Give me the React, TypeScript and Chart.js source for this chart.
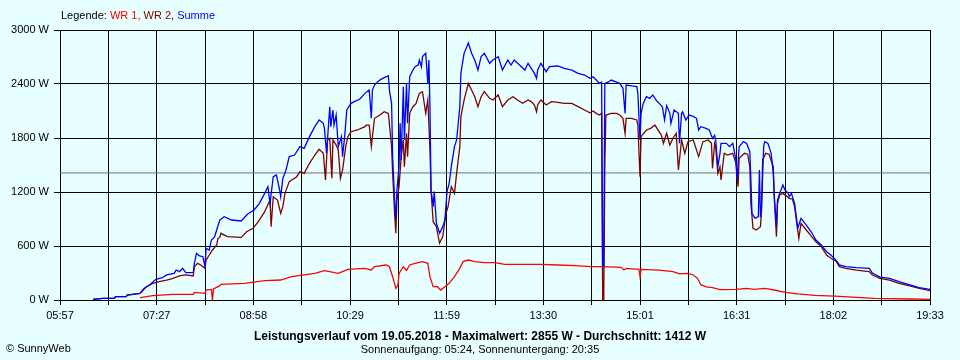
import React, { useEffect, useRef } from "react";
import { Chart, registerables } from "chart.js";

Chart.register(...registerables);

// ---- axis / reference values ----
const startMinute = 357; // 05:57
const endMinute = 1173; // 19:33
const gridDivisions = 18;
const yMin = 0;
const yMax = 3000;
const yStep = 600;
const averageWatt = 1412;

// ---- texts ----
const legendPrefix = "Legende: ";
const seriesNames = ["WR 1", "WR 2", "Summe"];
const titleText = "Leistungsverlauf vom 19.05.2018 - Maximalwert: 2855 W - Durchschnitt: 1412 W";
const subtitleText = "Sonnenaufgang: 05:24, Sonnenuntergang: 20:35";
const copyrightText = "\u00A9 SunnyWeb";

// ---- data (minutes after midnight, Watt) ----
const sumTimes = [
  388, 397, 408, 409, 419, 420, 432, 436, 441, 447,
  453, 457, 464, 466, 469, 472, 475, 482, 483, 485,
  488, 491, 493, 494, 497, 499, 502, 505, 507, 511,
  518, 527, 533, 539, 544, 549, 552, 554, 557, 560,
  563, 564, 566, 569, 572, 577, 582, 586, 591, 596,
  600, 604, 605, 607, 610, 611, 613, 614, 616, 618,
  621, 622, 624, 626, 630, 633, 638, 643, 647, 649,
  650, 652, 655, 658, 663, 665, 666, 668, 669, 671,
  672, 673, 675, 676, 677, 679, 680, 682, 683, 685,
  688, 690, 693, 694, 696, 697, 700, 702, 703, 704,
  705, 707, 708, 710, 713, 716, 718, 720, 722, 724,
  727, 729, 732, 733, 736, 738, 740, 743, 746, 749,
  752, 755, 760, 763, 768, 772, 777, 780, 783, 788,
  793, 796, 799, 802, 804, 805, 808, 813, 816, 824,
  830, 837, 843, 849, 854, 857, 860, 863, 865, 866,
  867, 868, 871, 874, 879, 882, 885, 887, 888, 893,
  898, 899, 901, 902, 904, 907, 910, 913, 916, 919,
  922, 924, 926, 929, 930, 933, 937, 938, 940, 941,
  944, 947, 951, 954, 956, 958, 963, 966, 969, 971,
  972, 974, 976, 977, 982, 985, 988, 991, 992, 994,
  998, 1001, 1004, 1005, 1006, 1009, 1012, 1013, 1014, 1015,
  1017, 1018, 1021, 1024, 1026, 1027, 1029, 1030, 1032, 1035,
  1037, 1040, 1041, 1043, 1046, 1048, 1049, 1052, 1057, 1062,
  1066, 1071, 1076, 1080, 1085, 1088, 1094, 1104, 1116, 1119,
  1126, 1135, 1144, 1154, 1163, 1173,
];
const sumValues = [
  8, 19, 19, 37, 37, 55, 74, 130, 167, 230,
  248, 278, 296, 333, 315, 352, 304, 304, 407, 518,
  489, 481, 370, 574, 556, 667, 700, 820, 889, 926,
  889, 878, 955, 1000, 1074, 1185, 1259, 1074, 1370, 1389,
  1222, 1148, 1352, 1444, 1593, 1611, 1704, 1685, 1815, 1926,
  2000, 1963, 1907, 1630, 2148, 1926, 2111, 1944, 2055, 1704,
  1815, 1593, 1815, 2111, 2185, 2204, 2230, 2296, 2333, 2019,
  2333, 2389, 2426, 2452, 2481, 2489, 2333, 2185, 1593, 1074,
  889, 1222, 1481, 1963, 1555, 2370, 1778, 2407, 1963, 2481,
  2555, 2592, 2611, 2667, 2592, 2704, 2741, 2407, 2667, 2148,
  1222, 1037, 1204, 852, 741, 815, 889, 1204, 1296, 1481,
  1704, 1778, 2148, 2518, 2741, 2796, 2855, 2741, 2667, 2555,
  2704, 2741, 2630, 2667, 2704, 2555, 2667, 2611, 2667, 2611,
  2555, 2630, 2574, 2518, 2463, 2555, 2630, 2537, 2593, 2600,
  2574, 2555, 2518, 2500, 2463, 2481, 2444, 2407, 2420, 370,
  380, 2407, 2420, 2444, 2420, 2407, 2352, 2074, 2389, 2378,
  2370, 2296, 1778, 2074, 2185, 2259, 2240, 2278, 2222, 2185,
  2148, 2000, 2160, 2074, 1963, 2111, 2074, 1741, 2074, 2090,
  2000, 2055, 2040, 2019, 1889, 1926, 1907, 1890, 1796, 1830,
  1778, 1481, 1630, 1741, 1741, 1704, 1741, 1556, 1333, 1704,
  1759, 1740, 1648, 1333, 963, 907, 926, 1444, 920, 1037,
  1704, 1759, 1740, 1630, 1407, 1148, 815, 1111, 1185, 1278,
  1222, 1185, 1150, 1185, 1074, 889, 800, 907, 833, 750,
  667, 611, 537, 500, 440, 389, 370, 359, 352, 300,
  255, 241, 204, 167, 137, 119,
];

const wr2Times = [
  388, 397, 408, 409, 419, 420, 432, 438, 444, 450,
  457, 463, 469, 475, 482, 483, 486, 489, 493, 494,
  497, 500, 504, 505, 507, 508, 514, 527, 532, 538,
  543, 549, 554, 555, 557, 561, 564, 566, 568, 572,
  579, 582, 586, 591, 596, 600, 604, 606, 608, 610,
  612, 613, 616, 618, 620, 622, 625, 627, 630, 636,
  643, 644, 647, 649, 652, 657, 661, 665, 668, 669,
  671, 672, 673, 675, 677, 679, 680, 682, 683, 685,
  688, 691, 694, 697, 700, 702, 704, 705, 707, 710,
  713, 716, 719, 721, 724, 727, 729, 732, 733, 736,
  740, 743, 746, 749, 752, 755, 760, 763, 768, 772,
  777, 782, 786, 791, 796, 799, 802, 804, 805, 808,
  813, 818, 824, 830, 837, 843, 849, 854, 857, 860,
  863, 865, 866, 867, 868, 869, 874, 879, 882, 885,
  887, 888, 893, 898, 899, 901, 902, 907, 911, 915,
  921, 923, 926, 929, 932, 935, 937, 940, 943, 946,
  951, 956, 960, 965, 968, 969, 971, 972, 974, 976,
  977, 980, 983, 988, 991, 993, 994, 999, 1002, 1004,
  1005, 1007, 1010, 1014, 1015, 1016, 1019, 1022, 1026, 1027,
  1029, 1030, 1032, 1035, 1038, 1041, 1044, 1046, 1048, 1050,
  1052, 1057, 1062, 1066, 1071, 1076, 1080, 1085, 1088, 1094,
  1104, 1116, 1119, 1126, 1135, 1144, 1154, 1163, 1173,
];
const wr2Values = [
  8, 19, 19, 37, 37, 55, 74, 148, 185, 204,
  222, 241, 267, 278, 267, 370, 407, 389, 352, 444,
  500, 556, 611, 680, 700, 741, 704, 696, 759, 796,
  870, 981, 1111, 815, 1148, 1111, 963, 1037, 1185, 1315,
  1370, 1426, 1407, 1519, 1611, 1674, 1630, 1333, 1778, 1796,
  1352, 1778, 1722, 1667, 1352, 1444, 1704, 1815, 1870, 1889,
  1926, 1944, 1944, 1704, 2019, 2055, 2093, 2074, 1704, 1407,
  926, 741, 1111, 1259, 1593, 1778, 1481, 1852, 1593, 2074,
  2148, 2185, 2296, 2315, 2074, 2222, 1667, 1222, 870, 815,
  630, 704, 963, 1037, 1259, 1185, 1407, 1704, 2037, 2222,
  2407, 2333, 2259, 2148, 2259, 2315, 2241, 2222, 2278, 2148,
  2222, 2259, 2222, 2185, 2222, 2204, 2167, 2093, 2167, 2222,
  2167, 2204, 2196, 2185, 2185, 2148, 2111, 2081, 2100, 2074,
  2055, 2074, 0, 0, 1500, 2055, 2074, 2074, 2055, 2019,
  1850, 2019, 2019, 2000, 1944, 1370, 1815, 1889, 1907, 1944,
  1833, 1741, 1852, 1722, 1800, 1852, 1444, 1778, 1630, 1759,
  1778, 1593, 1759, 1778, 1741, 1463, 1741, 1704, 1407, 1481,
  1333, 1630, 1611, 1630, 1519, 1259, 1574, 1630, 1620, 1481,
  1074, 796, 778, 815, 1000, 1556, 1630, 1620, 1481, 1111,
  704, 1074, 1167, 1185, 1160, 1130, 1120, 1037, 852, 685,
  852, 778, 704, 648, 593, 500, 463, 430, 370, 352,
  333, 315, 278, 241, 222, 185, 156, 130, 104,
];

const wr1Times = [
  432, 444, 463, 482, 483, 493, 494, 499, 500, 501,
  502, 507, 508, 530, 549, 564, 574, 596, 605, 618,
  627, 643, 649, 652, 663, 666, 669, 672, 674, 675,
  679, 682, 685, 690, 697, 702, 704, 707, 711, 714,
  718, 722, 727, 732, 735, 740, 746, 755, 765, 774,
  793, 808, 824, 840, 855, 866, 883, 886, 888, 900,
  901, 902, 919, 932, 938, 946, 951, 955, 958, 963,
  969, 976, 991, 1001, 1008, 1018, 1027, 1037, 1049, 1065,
  1084, 1104, 1121, 1155, 1173,
];
const wr1Values = [
  26, 48, 63, 63, 85, 74, 111, 118, 0, 125,
  130, 159, 174, 185, 215, 222, 259, 296, 326, 296,
  341, 352, 333, 370, 389, 370, 259, 130, 167, 296,
  370, 330, 389, 407, 426, 407, 259, 148, 148, 111,
  148, 185, 259, 352, 426, 444, 426, 415, 415, 396,
  396, 396, 389, 381, 370, 370, 363, 333, 352, 341,
  259, 341, 333, 315, 290, 296, 278, 241, 170, 145,
  137, 115, 119, 130, 119, 130, 111, 85, 67, 52,
  44, 30, 19, 11, 8,
];

// ---- styles ----
const BG = "#E8FFFF";
const COLOR_WR1 = "#FF0000";
const COLOR_WR2 = "#800000";
const COLOR_SUM = "#0000FF";
const COLOR_AVG = "#707070";
const FONT = "'Liberation Sans', Arial, Helvetica, sans-serif";

const pad2 = (n: number) => (n < 10 ? "0" + n : "" + n);
const fmtTime = (v: number) => {
  const m = Math.floor(v + 1e-6);
  return pad2(Math.floor(m / 60)) + ":" + pad2(m % 60);
};

const toPoints = (t: number[], v: number[]) => t.map((x, i) => ({ x, y: v[i] }));

const bgPlugin = {
  id: "bgFill",
  beforeDraw(chart: any) {
    const ctx = chart.ctx;
    ctx.save();
    ctx.fillStyle = BG;
    ctx.fillRect(0, 0, chart.width, chart.height);
    ctx.restore();
  },
};

const textPlugin = {
  id: "texts",
  afterDraw(chart: any) {
    const ctx = chart.ctx as CanvasRenderingContext2D;
    const area = chart.chartArea;
    ctx.save();
    ctx.textBaseline = "middle";
    // legend
    ctx.font = `11px ${FONT}`;
    ctx.textAlign = "left";
    let x = area.left + 1;
    const ly = 16;
    const parts = [
      { t: legendPrefix, c: "#000000" },
      { t: seriesNames[0] + ", ", c: COLOR_WR1 },
      { t: seriesNames[1] + ", ", c: COLOR_WR2 },
      { t: seriesNames[2], c: COLOR_SUM },
    ];
    for (const p of parts) {
      ctx.fillStyle = p.c;
      ctx.fillText(p.t, x, ly);
      x += ctx.measureText(p.t).width;
    }
    // title
    ctx.fillStyle = "#000000";
    ctx.textAlign = "center";
    ctx.font = `bold 12px ${FONT}`;
    ctx.fillText(titleText, 480, 337);
    ctx.font = `11px ${FONT}`;
    ctx.fillText(subtitleText, 480, 350);
    ctx.textAlign = "left";
    ctx.fillText(copyrightText, 6, 349);
    ctx.restore();
  },
};

export default function App() {
  const ref = useRef<HTMLCanvasElement>(null);
  useEffect(() => {
    document.body.style.margin = "0";
    document.body.style.background = BG;
    Chart.defaults.font.family = FONT;
    Chart.defaults.font.size = 11;
    Chart.defaults.color = "#000000";
    const line = (label: string, data: any[], color: string, width: number) => ({
      label,
      data,
      borderColor: color,
      backgroundColor: color,
      borderWidth: width,
      pointRadius: 0,
      tension: 0,
      fill: false,
    });
    const chart = new Chart(ref.current!, {
      type: "line",
      data: {
        datasets: [
          line(seriesNames[2], toPoints(sumTimes, sumValues), COLOR_SUM, 1.3),
          line(seriesNames[1], toPoints(wr2Times, wr2Values), COLOR_WR2, 1.3),
          line(seriesNames[0], toPoints(wr1Times, wr1Values), COLOR_WR1, 1.3),
          line("Durchschnitt", [
            { x: startMinute, y: averageWatt },
            { x: endMinute, y: averageWatt },
          ], COLOR_AVG, 1),
        ],
      },
      options: {
        responsive: false,
        animation: false,
        events: [],
        layout: { padding: { top: 30, right: 30, left: 0, bottom: 0 } },
        plugins: { legend: { display: false }, tooltip: { enabled: false } },
        scales: {
          x: {
            type: "linear",
            min: startMinute,
            max: endMinute,
            afterBuildTicks: (s: any) => {
              s.ticks = Array.from({ length: gridDivisions + 1 }, (_, i) => ({
                value: startMinute + (i * (endMinute - startMinute)) / gridDivisions,
              }));
            },
            afterFit: (s: any) => {
              s.height = 60;
            },
            ticks: {
              autoSkip: false,
              maxRotation: 0,
              padding: 4,
              callback: (v: any, i: number) => (i % 2 === 0 ? fmtTime(Number(v)) : ""),
            },
            grid: { color: "#000000", lineWidth: 1, tickLength: 5 },
            border: { color: "#000000", width: 1 },
          },
          y: {
            min: yMin,
            max: yMax,
            afterFit: (s: any) => {
              s.width = 60;
            },
            ticks: {
              stepSize: yStep,
              padding: 5,
              callback: (v: any) => `${v} W`,
            },
            grid: { color: "#000000", lineWidth: 1, tickLength: 6 },
            border: { color: "#000000", width: 1 },
          },
        },
      } as any,
      plugins: [bgPlugin, textPlugin],
    });
    return () => chart.destroy();
  }, []);
  return <canvas ref={ref} width={960} height={360} style={{ display: "block" }} />;
}
